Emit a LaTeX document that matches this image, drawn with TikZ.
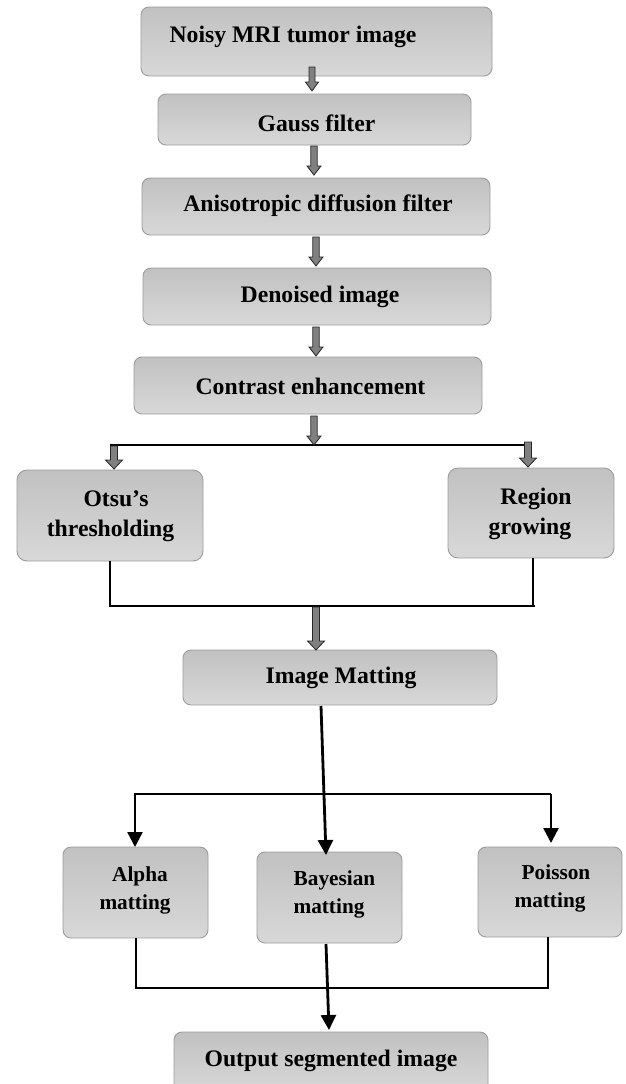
\documentclass[tikz,border=0pt]{standalone}
\usepackage{fontspec}
\setmainfont{Liberation Serif}
\usetikzlibrary{calc,arrows.meta}
\definecolor{boxtop}{HTML}{C1C1C1}
\definecolor{boxbot}{HTML}{D8D8D8}
\definecolor{boxline}{HTML}{9C9C9C}
\definecolor{arrfill}{HTML}{808080}
\tikzset{
  box/.style={draw=boxline, line width=0.9pt, rounded corners=8pt, top color=boxtop, bottom color=boxbot, inner sep=0pt},
  lbl/.style={font=\bfseries\fontsize{23.7}{30}\selectfont, inner sep=0pt, align=center},
  lbls/.style={font=\bfseries\fontsize{21.3}{28}\selectfont, inner sep=0pt, align=center},
  blockarr/.style={fill=arrfill, draw=black!85, line width=0.8pt, line join=miter},
  conn/.style={draw=black, line width=2pt},
  connt/.style={draw=black, line width=2.8pt},
  tri/.style={-{Triangle[width=15pt,length=15pt]}}
}
\newcommand{\blockarrow}[4]{%
  \path[blockarr] let \p1=(#1), \p2=(#2) in
  ($(\x1,\y1)+(-#3,0pt)$) -- ($(\x1,\y1)+(#3,0pt)$) -- ($(\x1,\y2)+(#3,9pt)$) --
  ($(\x1,\y2)+(#4,9pt)$) -- (\x1,\y2) -- ($(\x1,\y2)+(-#4,9pt)$) --
  ($(\x1,\y2)+(-#3,9pt)$) -- cycle;}
\begin{document}
\begin{tikzpicture}[x=1pt,y=-1pt]
\useasboundingbox (0,0) rectangle (625,1084);
% boxes
\node[box, minimum width=351pt, minimum height=69pt] (b1) at (316.5,41.5) {};
\node[lbl] (t1) at (293,37) {Noisy MRI tumor image};
\node[box, minimum width=313pt, minimum height=51pt] (b2) at (314.5,119.5) {};
\node[lbl] (t2) at (316.5,123) {Gauss filter};
\node[box, minimum width=348pt, minimum height=57pt] (b3) at (316,206.5) {};
\node[lbl] (t3) at (318,206) {Anisotropic diffusion filter};
\node[box, minimum width=348pt, minimum height=57pt] (b4) at (317,296.5) {};
\node[lbl] (t4) at (320,297) {Denoised image};
\node[box, minimum width=348pt, minimum height=57pt] (b5) at (308,385.5) {};
\node[lbl] (t5) at (310.5,386) {Contrast enhancement};
\node[box, rounded corners=10pt, minimum width=186pt, minimum height=91pt] (b6) at (110,515.5) {};
\node[lbl] (t6) at (110.5,516) {\hspace*{11pt}Otsu’s\\thresholding};
\node[box, rounded corners=10pt, minimum width=166pt, minimum height=90pt] (b7) at (531,513) {};
\node[lbl] (t7) at (530,513.5) {\hspace*{12pt}Region\\growing};
\node[box, minimum width=314pt, minimum height=55pt] (b8) at (340,677.5) {};
\node[lbl] (t8) at (341,678) {Image Matting};
\node[box, minimum width=145pt, minimum height=91pt] (b9) at (135.5,892.5) {};
\node[lbls] (t9) at (135,890) {\hspace*{10pt}Alpha\\matting};
\node[box, minimum width=145pt, minimum height=91pt] (b10) at (329.5,897.5) {};
\node[lbls] (t10) at (329,894.5) {\hspace*{11pt}Bayesian\\matting};
\node[box, minimum width=144pt, minimum height=90pt] (b11) at (550,892) {};
\node[lbls] (t11) at (550,888.5) {\hspace*{12pt}Poisson\\matting};
\node[box, minimum width=314pt, minimum height=60pt] (b12) at (331,1062) {};
\node[lbl] (t12) at (331,1061) {Output segmented image};
% coordinates
\coordinate (a1s) at (312,67);  \coordinate (a1e) at (312,91);
\coordinate (a2s) at (314,146); \coordinate (a2e) at (314,175);
\coordinate (a3s) at (316,237); \coordinate (a3e) at (316,266);
\coordinate (a4s) at (316,327); \coordinate (a4e) at (316,356);
\coordinate (a5s) at (314,416); \coordinate (a5e) at (314,445);
\coordinate (hL) at (110,445); \coordinate (hR) at (532,445);
\coordinate (a6s) at (114,446); \coordinate (a6e) at (114,469);
\coordinate (a7s) at (528,442); \coordinate (a7e) at (528,467);
\coordinate (oB) at (110,561); \coordinate (oC) at (110,606);
\coordinate (rB) at (533,558); \coordinate (rC) at (533,606);
\coordinate (rE) at (535,606);
\coordinate (a8s) at (316,607); \coordinate (a8e) at (316,650);
\coordinate (mS) at (321,706); \coordinate (mE) at (326,855);
\coordinate (mL) at (135,794); \coordinate (mR) at (551,794);
\coordinate (alT) at (135,847); \coordinate (poT) at (551,843);
\coordinate (alB) at (136,938); \coordinate (alC) at (136,988);
\coordinate (poB) at (548,937); \coordinate (poC) at (548,988);
\coordinate (baS) at (326,944); \coordinate (baE) at (329,1030);
% connectors
\draw[conn] (hL) -- (hR);
\blockarrow{a1s}{a1e}{3pt}{6.5pt}
\blockarrow{a2s}{a2e}{3.2pt}{7pt}
\blockarrow{a3s}{a3e}{3.2pt}{7pt}
\blockarrow{a4s}{a4e}{3.2pt}{7pt}
\blockarrow{a5s}{a5e}{3.2pt}{7pt}
\blockarrow{a6s}{a6e}{3.5pt}{8.5pt}
\blockarrow{a7s}{a7e}{3.5pt}{8.5pt}
\draw[conn] (oB) -- (oC) -- (rE);
\draw[conn] (rB) -- (rC);
\blockarrow{a8s}{a8e}{3.5pt}{8.5pt}
\draw[connt, tri] (mS) -- (mE);
\draw[conn, line width=2.4pt, tri] (mR) -- (mL) -- (alT);
\draw[conn, line width=2.4pt, tri] (mR) -- (poT);
\draw[connt] (alB) -- (alC) -- (poC) -- (poB);
\draw[connt, tri] (baS) -- (baE);
\end{tikzpicture}
\end{document}
